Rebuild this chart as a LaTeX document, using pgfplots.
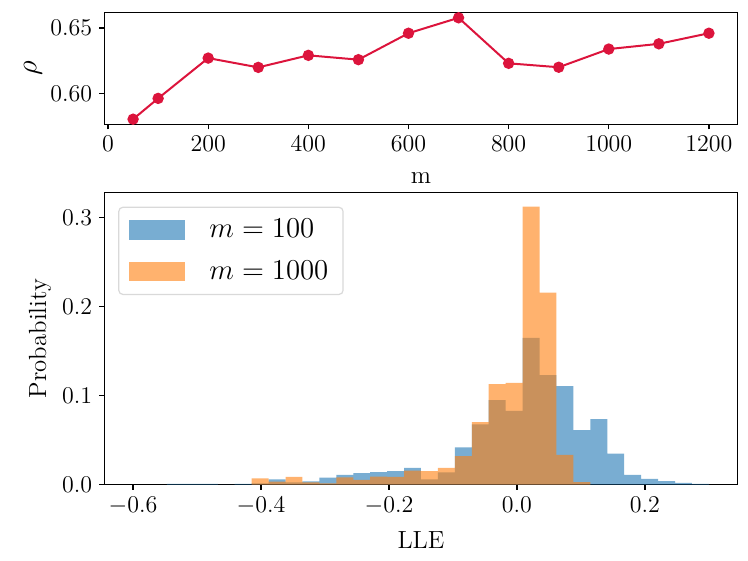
\documentclass[border=0pt]{standalone}
\usepackage{pgfplots}
\pgfplotsset{compat=1.18}
\definecolor{tabblue}{HTML}{1F77B4}
\definecolor{taborange}{HTML}{FF7F0E}
\definecolor{crim}{RGB}{220,20,60}
\pgfplotsset{
  myaxis/.style={
    scale only axis,
    width=316.7pt,
    font=\fontsize{12.4}{14}\selectfont,
    axis line style={line width=0.6pt},
    tick style={line width=0.6pt, black},
    tick align=outside,
    major tick length=2.5pt,
    xtick pos=bottom, ytick pos=left,
    scaled ticks=false,
    /pgf/number format/1000 sep={},
  }
}
\begin{document}
\begin{tikzpicture}
\path[use as bounding box] (0,0) rectangle (374pt,280.5pt);
\begin{axis}[myaxis,
  at={(52.15pt,218.35pt)}, anchor=south west,
  height=55.8pt,
  xmin=-7.5, xmax=1257.5,
  ymin=0.5764, ymax=0.6617,
  xtick={0,200,400,600,800,1000,1200},
  ytick={0.60,0.65},
  yticklabel style={/pgf/number format/.cd, fixed, fixed zerofill, precision=2},
  xlabel={m},
  xlabel style={at={(axis description cs:0.5,-0.481)}, anchor=center},
  ylabel={$\rho$},
  ylabel style={at={(axis description cs:-0.1126,0.5)}, anchor=center, font=\fontsize{14}{16}\selectfont},
]
\addplot[crim, line width=1pt, mark=*, mark size=2.33pt, mark options={fill=crim, draw=crim}]
coordinates {
(50,0.5803) (100,0.5962) (200,0.6270) (300,0.6199) (400,0.6291) (500,0.6258)
(600,0.6460) (700,0.6578) (800,0.6230) (900,0.6200) (1000,0.6339) (1100,0.6379) (1200,0.6460)
};
\node[font=\fontsize{12.4}{14}\selectfont] at (axis description cs:-0.1244,0.905) {(c)};
\end{axis}
\begin{axis}[myaxis,
  at={(52.15pt,38.15pt)}, anchor=south west,
  height=146pt,
  xmin=-0.645, xmax=0.345,
  ymin=0, ymax=0.3276,
  xtick={-0.6,-0.4,-0.2,0,0.2},
  ytick={0,0.1,0.2,0.3},
  xticklabel style={/pgf/number format/.cd, fixed, fixed zerofill, precision=1},
  yticklabel style={/pgf/number format/.cd, fixed, fixed zerofill, precision=1},
  xlabel={LLE},
  xlabel style={at={(axis description cs:0.5,-0.189)}, anchor=center},
  ylabel={Probability},
  ylabel style={at={(axis description cs:-0.1015,0.5)}, anchor=center},
  legend cell align=left,
  legend style={at={(0.022,0.952)}, anchor=north west, draw=black!15, rounded corners=2pt,
    line width=0.6pt, inner xsep=5.3pt, inner ysep=4pt, row sep=6pt,
    font=\fontsize{13.3}{15}\selectfont,
    /tikz/every odd column/.style={column sep=10pt}},
  legend image code/.code={\fill[#1, draw=none, sharp corners] (0pt,-4.85pt) rectangle (28pt,4.85pt);},
]
\addplot[ybar interval, fill=tabblue, draw=none, fill opacity=0.6]
coordinates {
(-0.54706,0.001) (-0.52059,0.001) (-0.49412,0.001) (-0.46765,0) (-0.44118,0.001)
(-0.41471,0.0015) (-0.38824,0.006) (-0.36176,0.0027) (-0.33529,0.0038) (-0.30882,0.008)
(-0.28235,0.0109) (-0.25588,0.013) (-0.22941,0.0142) (-0.20294,0.0153) (-0.17647,0.0188)
(-0.15,0.006) (-0.12353,0.0137) (-0.09706,0.042) (-0.07059,0.0676) (-0.04412,0.0948)
(-0.01765,0.0829) (0.00882,0.1646) (0.03529,0.1228) (0.06176,0.1107) (0.08824,0.0611)
(0.11471,0.0736) (0.14118,0.0348) (0.16765,0.0109) (0.19412,0.0064) (0.22059,0.0041)
(0.24706,0.002) (0.27353,0.0008) (0.3,0)
};
\addlegendentry{$m=100$\hspace{-6pt}}
\addplot[ybar interval, fill=taborange, draw=none, fill opacity=0.6]
coordinates {
(-0.41471,0.0072) (-0.38824,0.0034) (-0.36176,0.0088) (-0.33529,0.0025) (-0.30882,0.0015)
(-0.28235,0.0083) (-0.25588,0.0053) (-0.22941,0.0092) (-0.20294,0.0088) (-0.17647,0.0159)
(-0.15,0.0153) (-0.12353,0.0188) (-0.09706,0.032) (-0.07059,0.0703) (-0.04412,0.1129)
(-0.01765,0.1142) (0.00882,0.312) (0.03529,0.2156) (0.06176,0.0335) (0.08824,0.003)
(0.11471,0)
};
\addlegendentry{$m=1000$\hspace{-6pt}}
\node[font=\fontsize{12.4}{14}\selectfont] at (axis description cs:-0.1213,0.939) {(d)};
\end{axis}
\end{tikzpicture}
\end{document}
